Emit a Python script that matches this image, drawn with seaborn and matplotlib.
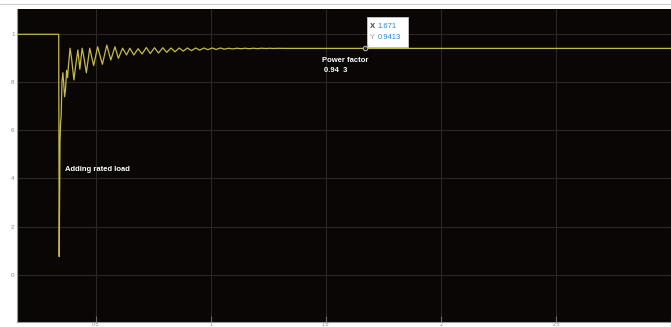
import numpy as np
import pandas as pd
import seaborn as sns
import matplotlib
matplotlib.use("Agg")
import matplotlib.pyplot as plt
import matplotlib.transforms as mtransforms
from matplotlib.patches import Rectangle
from matplotlib.lines import Line2D

# Power factor response after a rated load is switched in
time_s = [0.0, 0.3395, 0.3416, 0.3451, 0.3476, 0.3502, 0.3536, 0.3575, 0.3609,
          0.3652, 0.3691, 0.3738, 0.3781, 0.3820, 0.3888, 0.3953, 0.4056, 0.4133,
          0.4227, 0.4313, 0.4412, 0.4498, 0.4597, 0.4742, 0.4914, 0.5086, 0.5292,
          0.5485, 0.5657, 0.5841, 0.5987, 0.6172, 0.6343, 0.6485, 0.6657, 0.6845,
          0.7017, 0.7202, 0.7373, 0.7558, 0.7730, 0.7918, 0.8090, 0.8275, 0.8446,
          0.8631, 0.8803, 0.8991, 0.9163, 0.9348, 0.9519, 0.9704, 0.9876, 1.0064,
          1.0236, 1.0421, 1.0592, 1.0777, 1.0948, 1.1137, 1.1309, 1.1494, 1.1665,
          1.1850, 1.2021, 1.2210, 1.2382, 1.2567, 1.2738, 1.2923, 1.3296, 3.2]
power_factor = [1.0, 1.0, 0.075, 0.55, 0.63, 0.66, 0.80, 0.84, 0.80,
                0.74, 0.77, 0.85, 0.82, 0.87, 0.942, 0.90, 0.81, 0.87,
                0.935, 0.855, 0.942, 0.90, 0.84, 0.942, 0.87, 0.948, 0.875,
                0.955, 0.893, 0.948, 0.90, 0.942, 0.914, 0.942, 0.914, 0.940,
                0.918, 0.945, 0.920, 0.944, 0.922, 0.944, 0.925, 0.943, 0.927,
                0.943, 0.930, 0.943, 0.932, 0.943, 0.934, 0.943, 0.936, 0.943,
                0.937, 0.943, 0.938, 0.942, 0.939, 0.942, 0.940, 0.942, 0.940,
                0.942, 0.9405, 0.942, 0.941, 0.9418, 0.9410, 0.9416, 0.9413, 0.9413]

# Data tip on the settled value
tip_x = 1.671
tip_y = 0.9413

x_ticks = [0.5, 1.0, 1.5, 2.0, 2.5, 3.0]
x_tick_labels = ["0.5", "1", "1.5", "2", "2.5", "3"]
y_ticks = [0.0, 0.2, 0.4, 0.6, 0.8, 1.0]
y_tick_labels = ["0", "2", "4", "6", "8", "1"]

df = pd.DataFrame({"t": time_s, "pf": power_factor})

sns.set_theme(style="dark")
plt.rcParams["font.family"] = ["Liberation Sans", "DejaVu Sans"]

fig = plt.figure(figsize=(6.71, 3.27), dpi=100, facecolor="white")
ax = fig.add_axes([16.7 / 671, 5.3 / 327, 1 - 16.7 / 671, 312.4 / 327])
ax.set_facecolor("#0a0606")

sns.lineplot(data=df, x="t", y="pf", ax=ax, color="#c4bb46", linewidth=0.9,
             sort=False, estimator=None)

ax.set_xlim(0.157, 2.965)
ax.set_ylim(-0.196, 1.104)
ax.set_xticks(x_ticks)
ax.set_xticklabels(x_tick_labels)
ax.set_yticks(y_ticks)
ax.set_yticklabels(y_tick_labels)
ax.set_xlabel("")
ax.set_ylabel("")

ax.grid(True, color="#2b2828", linewidth=0.8)
ax.tick_params(axis="both", direction="in", length=4, width=0.8, color="#6a6a6a",
               labelcolor="#8a8a8a", bottom=True, left=False)
ax.tick_params(axis="y", labelsize=4.5, pad=1.5)
ax.tick_params(axis="x", labelsize=3.8, pad=0.2)
for side in ("top", "right"):
    ax.spines[side].set_visible(False)
for side in ("left", "bottom"):
    ax.spines[side].set_color("#9a9a9a")
    ax.spines[side].set_linewidth(0.8)

# Annotations
ax.text(0.368, 0.438, "Adding rated load", color="white", fontsize=5.5,
        fontweight="bold", ha="left", va="center")
ax.text(1.482, 0.893, "Power factor", color="white", fontsize=5.5,
        fontweight="bold", ha="left", va="center")
ax.text(1.492, 0.851, "0.94  3", color="white", fontsize=5.5,
        fontweight="bold", ha="left", va="center")

# Data tip marker and box
sns.scatterplot(x=[tip_x], y=[tip_y], ax=ax, s=10, facecolor="#0a0606",
                edgecolor="#b0b0b0", linewidth=0.8, zorder=5, legend=False)

px, py = ax.transData.transform((tip_x, tip_y))
tip_trans = mtransforms.Affine2D().translate(px, py)
ax.add_patch(Rectangle((1.4, 1.6), 41.0, 29.4, transform=tip_trans,
                       facecolor="white", edgecolor="#c8c8c8", linewidth=0.6,
                       zorder=6, clip_on=False))
ax.add_line(Line2D([0, 3], [0, 3], transform=tip_trans, color="#888888",
                   linewidth=0.5, zorder=6))
ax.text(4.7, 22.3, "X", transform=tip_trans, color="#404040", fontsize=5.5,
        fontweight="bold", ha="left", va="center", zorder=7)
ax.text(12.4, 22.3, "1.671", transform=tip_trans, color="#2f86d6", fontsize=5.5,
        ha="left", va="center", zorder=7)
ax.text(4.7, 11.0, "Y", transform=tip_trans, color="#9a9a9a", fontsize=5.5,
        ha="left", va="center", zorder=7)
ax.text(12.4, 11.0, "0.9413", transform=tip_trans, color="#2f86d6", fontsize=5.5,
        ha="left", va="center", zorder=7)

# Thin window border above the plot
fig.add_artist(Line2D([0, 1], [1 - 3.5 / 327] * 2, transform=fig.transFigure,
                      color="#cfcfcf", linewidth=0.8))

fig.savefig("out.png", dpi=100, facecolor="white")
